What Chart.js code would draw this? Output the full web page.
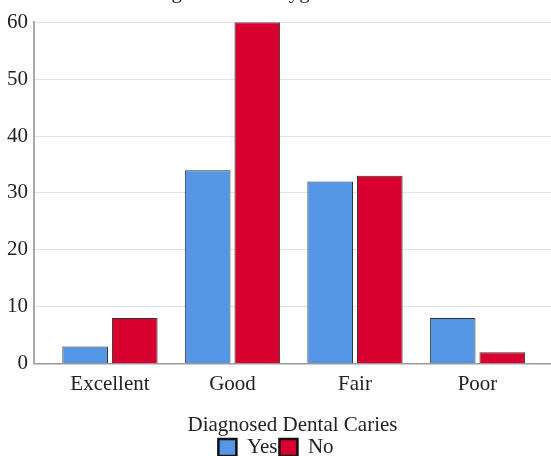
<!DOCTYPE html>
<html>
<head>
<meta charset="utf-8">
<script src="https://cdn.jsdelivr.net/npm/chart.js@4.4.1/dist/chart.umd.min.js"></script>
<style>
  html, body { margin: 0; padding: 0; background: #fff; }
  #wrap { width: 551px; height: 456px; overflow: hidden; }
  #myChart { margin-top: -20px; display: block; }
</style>
</head>
<body>
<div id="wrap"><canvas id="myChart" width="551" height="488"></canvas></div>
<script>
// oral hygiene status vs diagnosed dental caries
const categories = ["Excellent", "Good", "Fair", "Poor"];
const yesValues = [3, 34, 32, 8];
const noValues = [8, 60, 33, 2];
const yTicks = [0, 10, 20, 30, 40, 50, 60];

const serif = "'Liberation Serif', 'Times New Roman', serif";
const textColor = "#222";

let ctx = document.getElementById("myChart").getContext("2d");

function toPoints(values) {
  return values.map((v, i) => ({ x: i, y: v }));
}

new Chart(ctx, {
  type: "bar",
  data: {
    datasets: [
      {
        label: "Yes",
        data: toPoints(yesValues),
        backgroundColor: "#5596E6",
        borderColor: "#333",
        borderWidth: 1,
      },
      {
        label: "No",
        data: toPoints(noValues),
        backgroundColor: "#D7002E",
        borderColor: "#333",
        borderWidth: 1,
      },
    ],
  },
  options: {
    responsive: false,
    animation: false,
    categoryPercentage: 0.81,
    barPercentage: 0.92,
    layout: { padding: { left: 1, right: 0, top: 0, bottom: 0 } },
    plugins: {
      title: {
        display: true,
        text: "Figure 1: Oral hygiene status",
        color: textColor,
        font: { family: serif, size: 21, weight: "normal" },
        padding: { top: 0, bottom: 17 },
      },
      legend: {
        position: "bottom",
        labels: {
          color: textColor,
          font: { family: serif, size: 21 },
          boxWidth: 18,
          boxHeight: 17,
          padding: 2,
          generateLabels: (chart) =>
            chart.data.datasets.map((ds, i) => ({
              text: ds.label,
              fillStyle: ds.backgroundColor,
              strokeStyle: "#111",
              lineWidth: 2.5,
              datasetIndex: i,
              fontColor: textColor,
            })),
        },
      },
      tooltip: { enabled: false },
    },
    scales: {
      x: {
        type: "linear",
        min: -0.62,
        max: 3.6,
        offset: false,
        grid: { display: false, drawTicks: false },
        border: { display: true, color: "#999", width: 1.5 },
        ticks: {
          stepSize: 1,
          includeBounds: false,
          autoSkip: false,
          maxRotation: 0,
          padding: 8,
          color: textColor,
          font: { family: serif, size: 21 },
          callback: (v) => (Number.isInteger(v) ? categories[v] : ""),
        },
        title: {
          display: true,
          text: "Diagnosed Dental Caries",
          color: textColor,
          font: { family: serif, size: 21 },
          padding: { top: 8, bottom: -3 },
        },
      },
      y: {
        min: 0,
        max: 60,
        grid: { color: "#e2e2e2", lineWidth: 1, drawTicks: false },
        border: { display: true, color: "#aaa", width: 2 },
        afterBuildTicks: (axis) => {
          axis.ticks = yTicks.map((v) => ({ value: v }));
        },
        ticks: {
          padding: 6,
          color: textColor,
          font: { family: serif, size: 21 },
        },
      },
    },
  },
});
</script>
</body>
</html>
